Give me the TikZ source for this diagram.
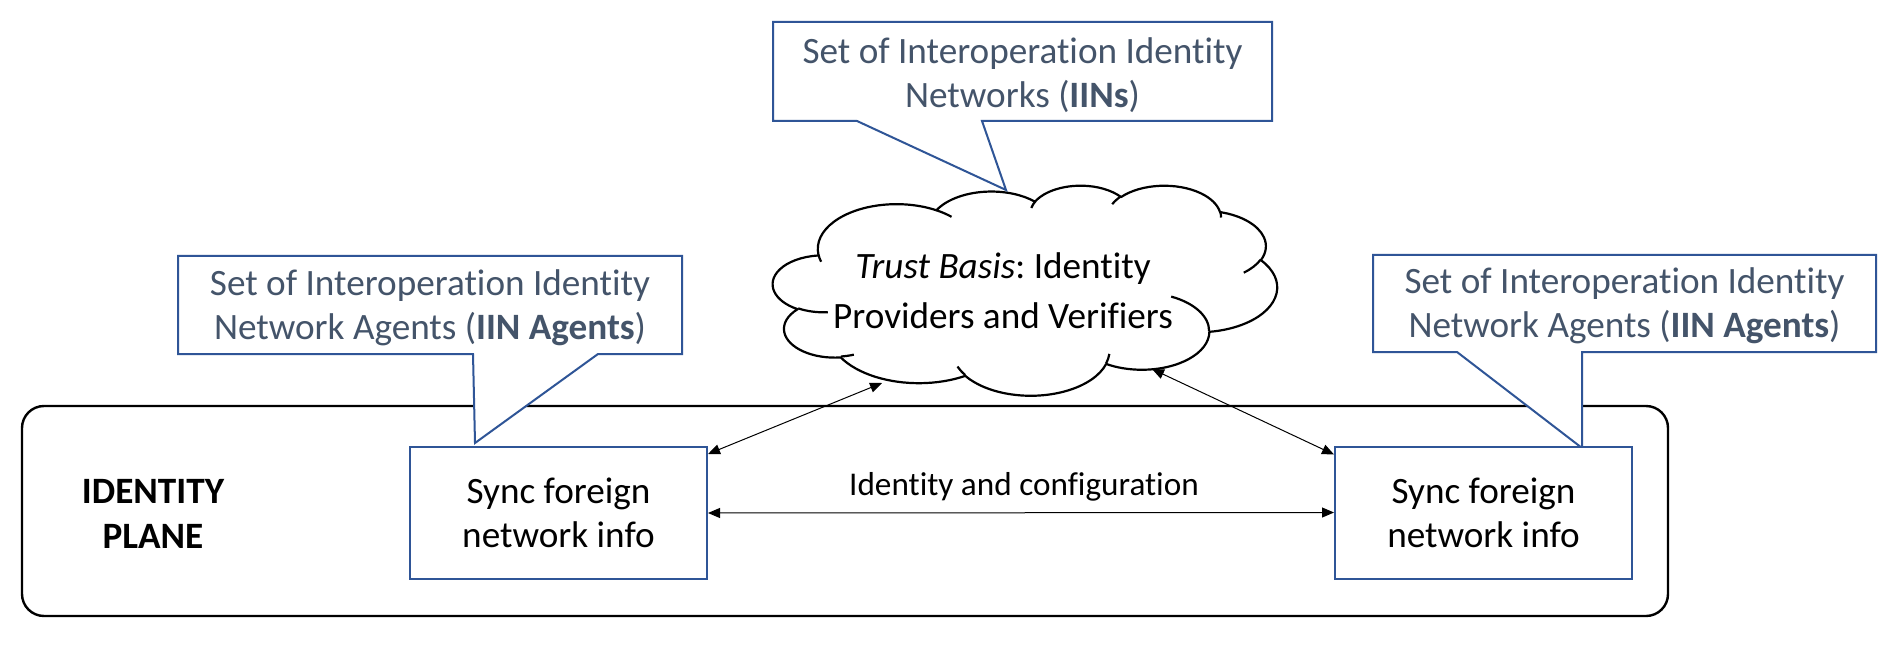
\documentclass[tikz,border=0pt]{standalone}
\usepackage{fontspec}
\setmainfont{Carlito}[Ligatures=NoCommon,Contextuals=NoAlternate]
\frenchspacing
\usetikzlibrary{arrows.meta,calc}
\definecolor{calloutblue}{RGB}{47,85,151}
\definecolor{callouttext}{RGB}{68,84,106}
\begin{document}
\begin{tikzpicture}[x=0.5pt,y=-0.5pt,
  declare function={pa(\a,\r)=floor(\a/180+0.5)*180+atan(\r*tan(\a-floor(\a/180+0.5)*180));},
  calloutshape/.style={draw=calloutblue,line width=1pt,fill=white,line join=miter},
  callouttxt/.style={text=callouttext,font=\fontsize{18.6}{22}\selectfont,align=center,inner sep=0pt},
  syncbox/.style={draw=calloutblue,line width=1pt,fill=white,minimum width=148.5pt,minimum height=66pt,align=center,font=\fontsize{18.6}{22}\selectfont,inner sep=0pt},
  link/.style={line width=0.5pt,{Triangle[length=6pt,width=5pt]}-{Triangle[length=6pt,width=5pt]}},
  cloudline/.style={line width=1.1pt,line join=round},
]
\fill[white] (0,0) rectangle (1898,646);
\useasboundingbox (0,0) rectangle (1898,646);

% identity plane container
\node[draw,line width=1.2pt,rounded corners=11pt,minimum width=823pt,minimum height=105pt,inner sep=0pt] (plane) at (845,511) {};
\node[font=\bfseries\fontsize{18.6}{22.5}\selectfont,align=center,inner sep=0pt] (idp) at (153,514) {IDENTITY\\PLANE};

% cloud (Office cloud shape geometry)
\begin{scope}[shift={(773,185)},xscale=1.16667,yscale=0.486111]
\draw[cloudline,fill=white] (39.00,143.70)
  arc[start angle={pa(-190.4875,67.53/91.90)},end angle={pa(-66.7070,67.53/91.90)},x radius=67.53,y radius=91.90]
  arc[start angle={pa(-144.1024,53.33/72.67)},end angle={pa(-54.1572,53.33/72.67)},x radius=53.33,y radius=72.67]
  arc[start angle={pa(-145.8079,43.65/59.45)},end angle={pa(-46.0849,43.65/59.45)},x radius=43.65,y radius=59.45]
  arc[start angle={pa(-130.9861,48.57/65.95)},end angle={pa(-13.7444,48.57/65.95)},x radius=48.57,y radius=65.95]
  arc[start angle={pa(-78.7089,53.33/72.73)},end angle={pa(30.3180,53.33/72.73)},x radius=53.33,y radius=72.73]
  arc[start angle={pa(-46.2673,67.75/92.20)},end angle={pa(84.0017,67.75/92.20)},x radius=67.75,y radius=92.20]
  arc[start angle={pa(0.6250,57.85/78.67)},end angle={pa(114.6583,57.85/78.67)},x radius=57.85,y radius=78.67]
  arc[start angle={pa(22.4516,67.52/92.15)},end angle={pa(137.6242,67.52/92.15)},x radius=67.52,y radius=92.15]
  arc[start angle={pa(66.2426,77.20/105.43)},end angle={pa(141.9536,77.20/105.43)},x radius=77.20,y radius=105.43]
  arc[start angle={pa(-274.9421,43.60/59.18)},end angle={pa(-128.2065,43.60/59.18)},x radius=43.60,y radius=59.18]
  arc[start angle={pa(-246.8285,43.45/59.45)},end angle={pa(-94.3096,43.45/59.45)},x radius=43.45,y radius=59.45]
  -- cycle;
\draw[cloudline]
  (46.93,261.77) arc[start angle={pa(86.7420,43.45/59.45)},end angle={pa(113.1715,43.45/59.45)},x radius=43.45,y radius=59.45]
  (69.28,348.99) arc[start angle={pa(73.6105,43.60/59.18)},end angle={pa(85.0580,43.60/59.18)},x radius=43.60,y radius=59.18]
  (164.78,390.90) arc[start angle={pa(137.6242,67.52/92.15)},end angle={pa(151.7053,67.52/92.15)},x radius=67.52,y radius=92.15]
  (288.27,347.51) arc[start angle={pa(6.4533,67.52/92.15)},end angle={pa(22.4517,67.52/92.15)},x radius=67.52,y radius=92.15]
  (341.29,229.54) arc[start angle={pa(-70.2924,57.85/78.67)},end angle={pa(0.6250,57.85/78.67)},x radius=57.85,y radius=78.67]
  (417.98,153.54) arc[start angle={pa(30.3180,53.33/72.73)},end angle={pa(58.0695,53.33/72.73)},x radius=53.33,y radius=72.73]
  (383.24,54.26) arc[start angle={pa(-13.7443,48.57/65.95)},end angle={pa(1.1146,48.57/65.95)},x radius=48.57,y radius=65.95]
  (290.78,39.52) arc[start angle={pa(-149.1815,48.57/65.95)},end angle={pa(-130.9861,48.57/65.95)},x radius=48.57,y radius=65.95]
  (221.41,47.20) arc[start angle={pa(-163.4943,43.65/59.45)},end angle={pa(-145.8079,43.65/59.45)},x radius=43.65,y radius=59.45]
  (140.00,51.92) arc[start angle={pa(-66.7070,67.53/91.90)},end angle={pa(-54.3876,67.53/91.90)},x radius=67.53,y radius=91.90]
  (41.27,157.89) arc[start angle={pa(157.6544,67.53/91.90)},end angle={pa(169.5126,67.53/91.90)},x radius=67.53,y radius=91.90];
\end{scope}
\node[font=\fontsize{18.6}{25}\selectfont,align=center,inner sep=0pt] (trust) at (1003,291) {\textit{Trust Basis}: Identity\\Providers and Verifiers};
\coordinate (cloudL) at (882,383);
\coordinate (cloudR) at (1152,369);

% callouts
\draw[calloutshape] (773,22) -- (1272,22) -- (1272,121) -- (982,121) -- (1006,190) -- (857,121) -- (773,121) -- cycle;
\node[callouttxt] (iins) at (1022.5,75) {Set of Interoperation Identity\\Networks (\textbf{IINs})};

\draw[calloutshape] (178,256) -- (682,256) -- (682,354) -- (598,354) -- (475,443) -- (473,354) -- (178,354) -- cycle;
\node[callouttxt] (agentsL) at (430,308) {Set of Interoperation Identity\\Network Agents (\textbf{IIN Agents})};

\draw[calloutshape] (1373,255) -- (1876,255) -- (1876,352) -- (1582,352) -- (1582,448) -- (1457,352) -- (1373,352) -- cycle;
\node[callouttxt] (agentsR) at (1624.5,306) {Set of Interoperation Identity\\Network Agents (\textbf{IIN Agents})};

% sync boxes
\node[syncbox] (syncL) at (558.5,513) {Sync foreign\\network info};
\node[syncbox] (syncR) at (1483.5,512.5) {Sync foreign\\network info};

% connectors
\draw[link] ([yshift=-4pt]syncL.north east) -- (cloudL);
\draw[link] ([yshift=-4.5pt]syncR.north west) -- (cloudR);
\draw[link] (syncL.east) -- (syncR.west);
\node[font=\fontsize{16.6}{19}\selectfont,inner sep=0pt] (lbl) at (1024,487) {Identity and configuration};
\end{tikzpicture}
\end{document}
